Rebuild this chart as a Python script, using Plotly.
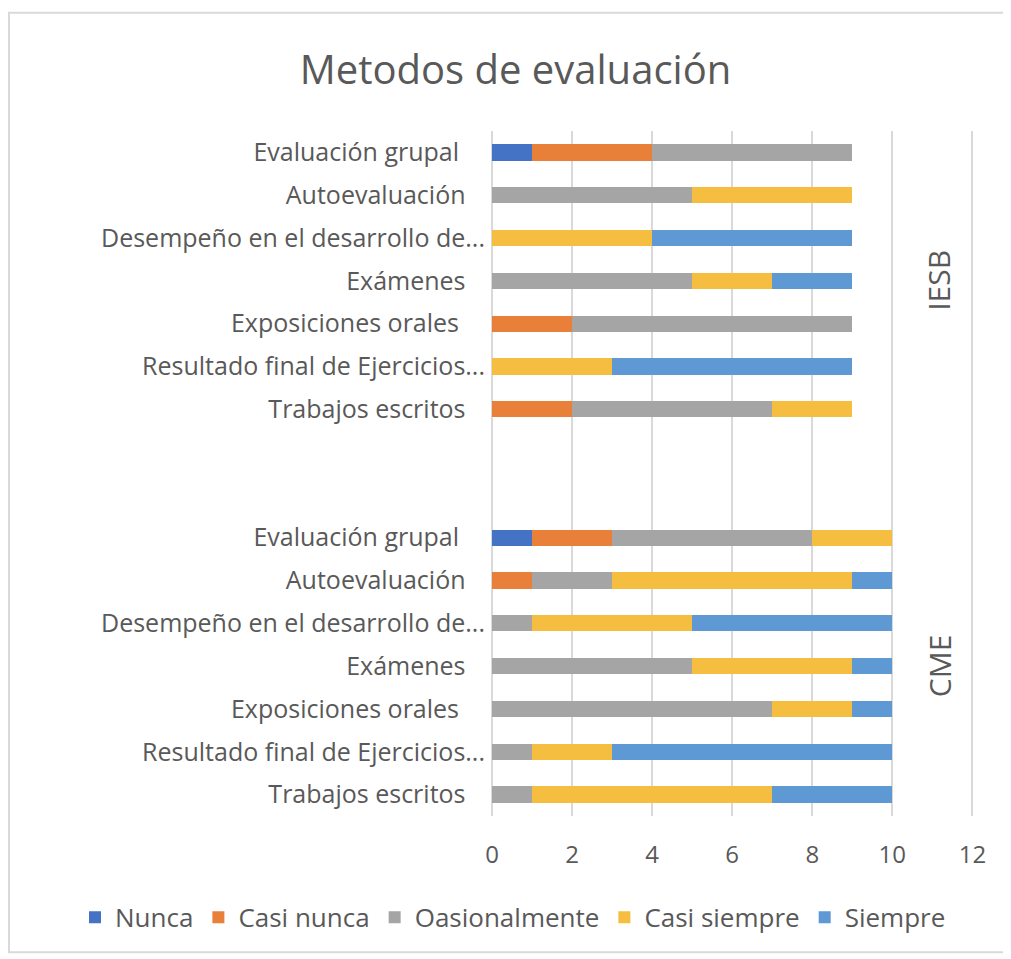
import plotly.graph_objects as go

# categories, top to bottom as they appear in each group
items = ["Evaluación grupal", "Autoevaluación", "Desempeño en el desarrollo de...",
         "Exámenes", "Exposiciones orales", "Resultado final de Ejercicios...",
         "Trabajos escritos"]
item_labels = ["Evaluación grupal\u00a0\u00a0\u00a0\u00a0", "Autoevaluación\u00a0\u00a0\u00a0",
               "Desempeño en el desarrollo de...", "Exámenes\u00a0\u00a0\u00a0",
               "Exposiciones orales\u00a0\u00a0\u00a0\u00a0", "Resultado final de Ejercicios...",
               "Trabajos escritos\u00a0\u00a0\u00a0"]
groups = ["IESB", "CME"]
series = ["Nunca", "Casi nunca", "Oasionalmente", "Casi siempre", "Siempre"]
colors = ["#4472C4", "#E8803A", "#A5A5A5", "#F5BE41", "#5E99D4"]

# values per series, same order as items
iesb_nunca = [1, 0, 0, 0, 0, 0, 0]
iesb_casi_nunca = [3, 0, 0, 0, 2, 0, 2]
iesb_ocasional = [5, 5, 0, 5, 7, 0, 5]
iesb_casi_siempre = [0, 4, 4, 2, 0, 3, 2]
iesb_siempre = [0, 0, 5, 2, 0, 6, 0]

cme_nunca = [1, 0, 0, 0, 0, 0, 0]
cme_casi_nunca = [2, 1, 0, 0, 0, 0, 0]
cme_ocasional = [5, 2, 1, 5, 7, 1, 1]
cme_casi_siempre = [2, 6, 4, 4, 2, 2, 6]
cme_siempre = [0, 1, 5, 1, 1, 7, 3]

iesb = [iesb_nunca, iesb_casi_nunca, iesb_ocasional, iesb_casi_siempre, iesb_siempre]
cme = [cme_nunca, cme_casi_nunca, cme_ocasional, cme_casi_siempre, cme_siempre]

keys = {g: [f"{g}|{it}" for it in items] for g in groups}
# bottom to top: CME block, two empty slots, IESB block
cat_order = keys["CME"][::-1] + ["gap1", "gap2"] + keys["IESB"][::-1]
tick_text = item_labels[::-1] + ["", ""] + item_labels[::-1]

fig = go.Figure()
for i, name in enumerate(series):
    fig.add_trace(go.Bar(
        name=name, orientation="h",
        y=keys["IESB"] + keys["CME"],
        x=iesb[i] + cme[i],
        marker=dict(color=colors[i], line_width=0),
    ))

# plot area in page pixels (page body has an 8px offset)
pl, pt, pw, ph = 484, 122.5, 482, 686
font_col = "#595959"
fig.update_layout(
    barmode="stack", bargap=0.62,
    width=1011, height=959,
    paper_bgcolor="white", plot_bgcolor="white",
    margin=dict(l=pl, r=1011 - pl - pw, t=pt, b=959 - pt - ph, autoexpand=False),
    font=dict(family="Open Sans", color=font_col, size=24),
    title=dict(text="Metodos de evaluación", x=0.502, xanchor="center",
               y=0.935, yanchor="middle", font=dict(size=40, color=font_col)),
    legend=dict(orientation="h", x=(67 - pl) / pw, xanchor="left",
                y=-(910 - pt - ph) / ph, yanchor="middle",
                traceorder="normal", bgcolor="rgba(0,0,0,0)",
                font=dict(size=26, color=font_col)),
    showlegend=True,
)
fig.update_xaxes(range=[0, 12.04], dtick=2, showgrid=True, gridcolor="#D9D9D9", gridwidth=2,
                 zeroline=True, zerolinecolor="#D9D9D9", zerolinewidth=2,
                 showline=False, ticks="", ticklabelstandoff=22, automargin=False,
                 tickfont=dict(size=24, color=font_col))
fig.update_yaxes(type="category", categoryorder="array", categoryarray=cat_order,
                 tickvals=cat_order, ticktext=tick_text, showgrid=False,
                 ticks="", ticklabelstandoff=6, automargin=False,
                 tickfont=dict(size=25, color=font_col))

for g in groups:
    fig.add_annotation(text=g, xref="paper", x=(931 - pl) / pw, xanchor="center",
                       yref="y", y=keys[g][3], yanchor="middle",
                       textangle=-90, showarrow=False,
                       font=dict(size=30, color=font_col))

# outer chart border
fig.add_shape(type="rect", xref="paper", yref="paper",
              x0=(1 - pl) / pw, x1=(1012 - pl) / pw,
              y0=-(945 - pt - ph) / ph, y1=1 + (pt - 4) / ph,
              line=dict(color="#D9D9D9", width=2), layer="below")

fig.write_html("out.html")
